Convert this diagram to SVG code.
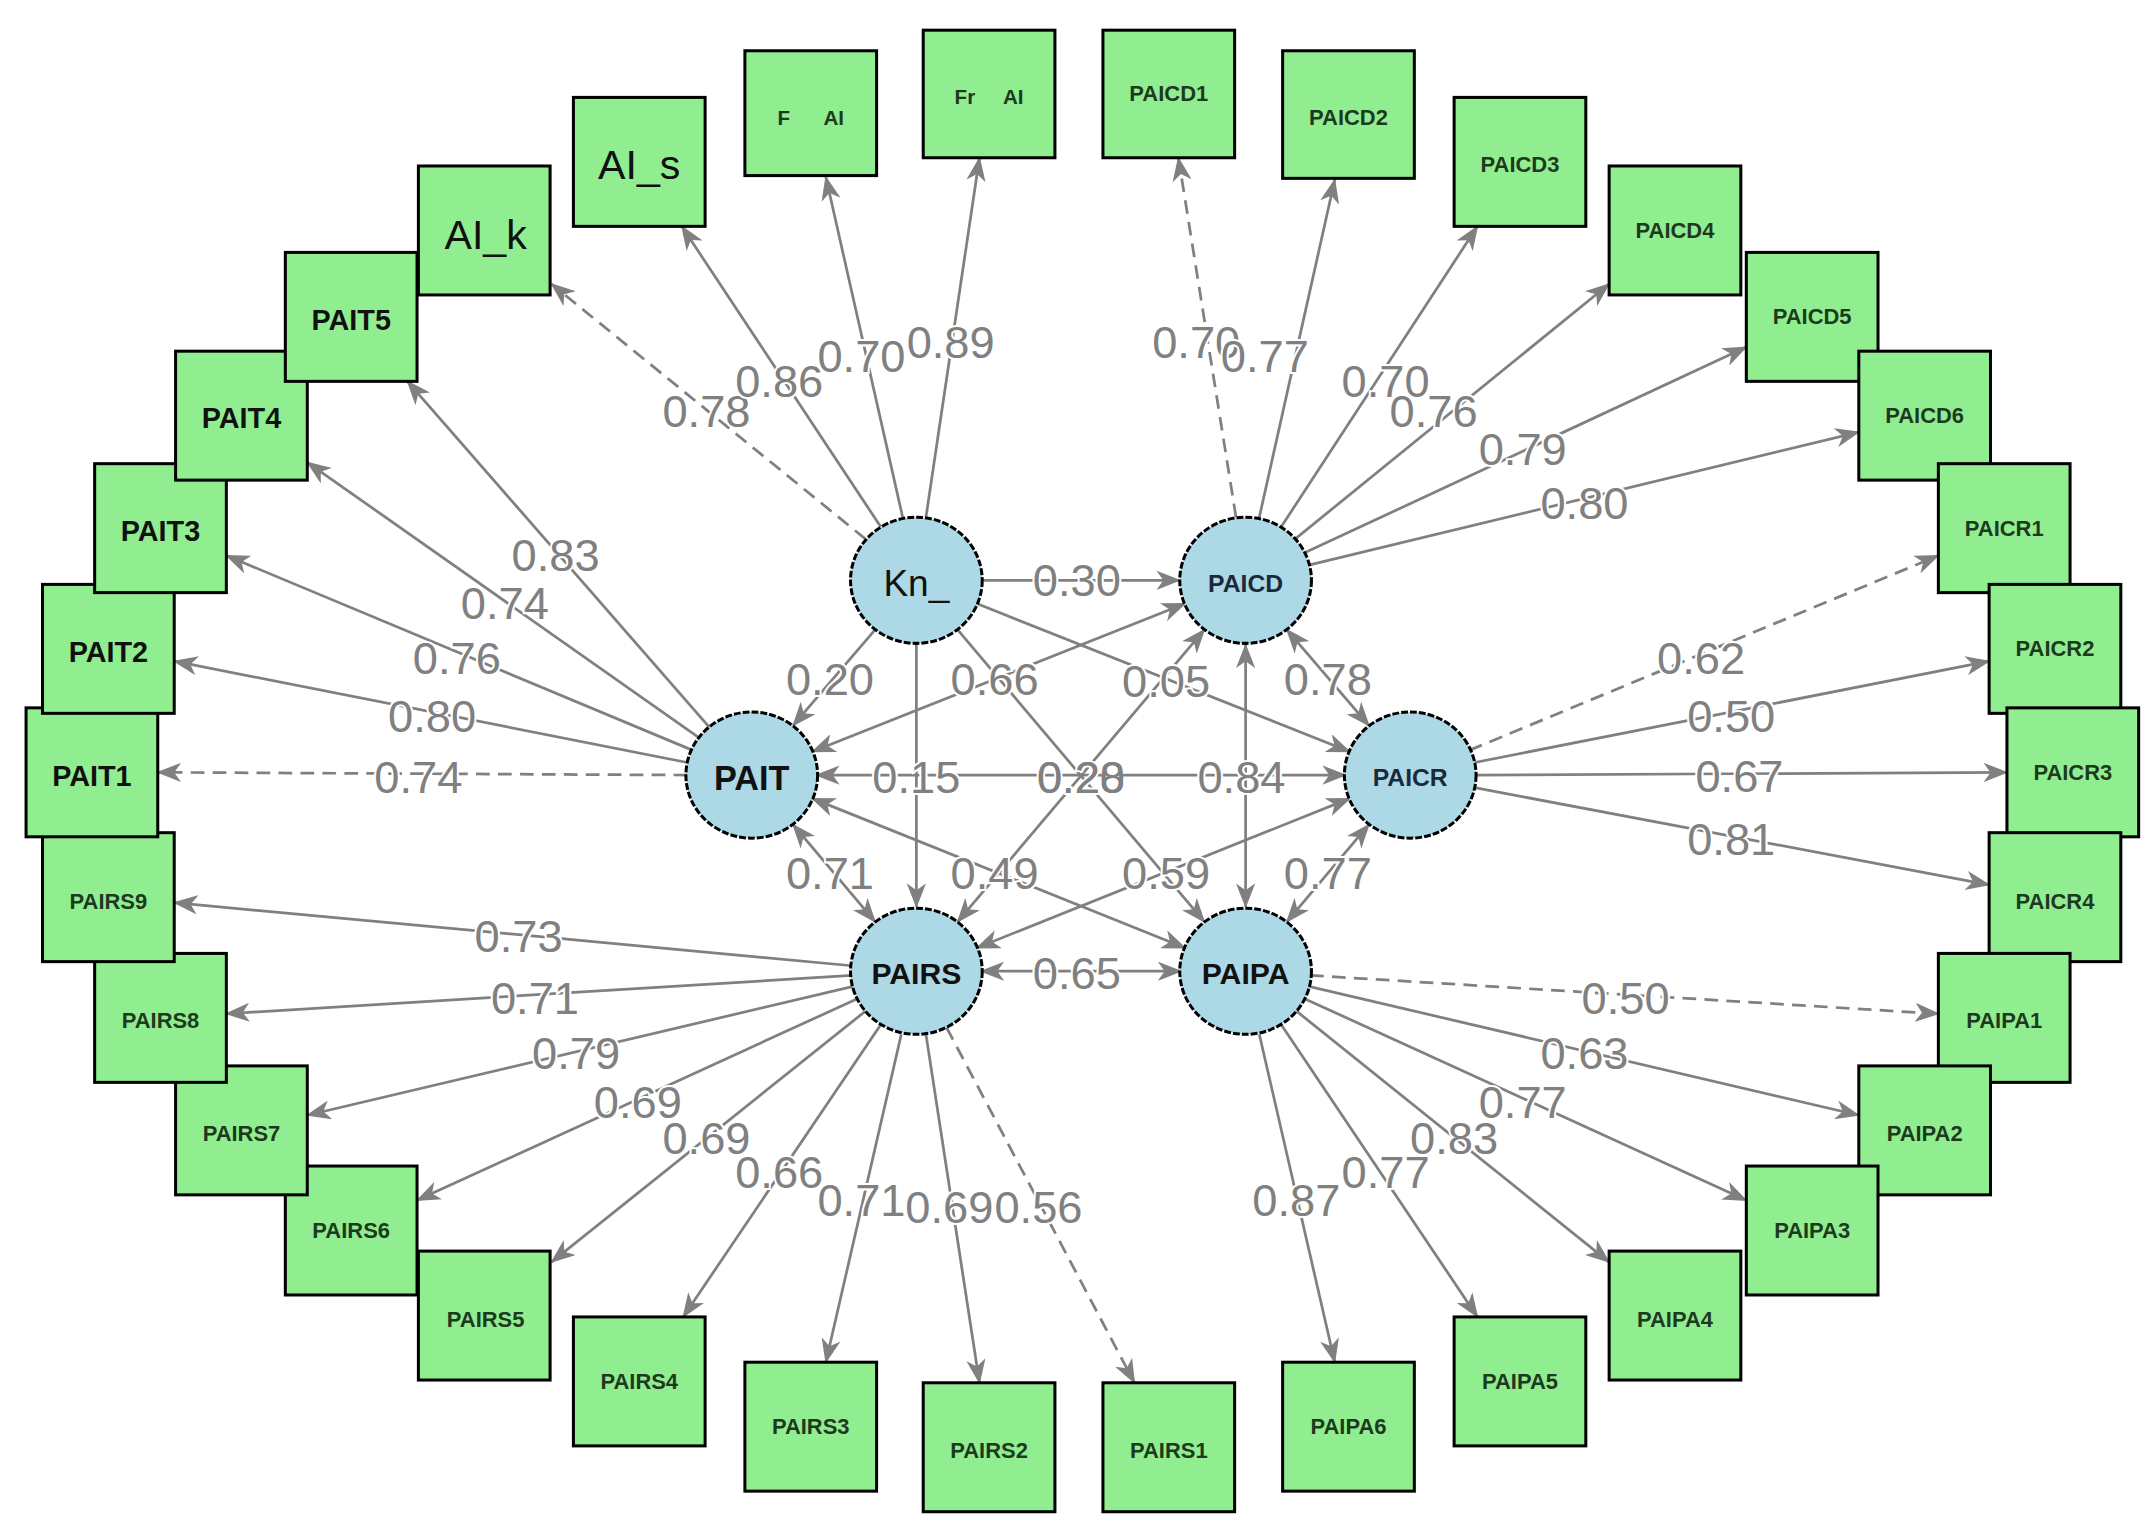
<svg xmlns="http://www.w3.org/2000/svg" width="2151" height="1524" viewBox="0 0 2151 1524">
<style>
.b{fill:#90EE90;stroke:#000;stroke-width:2.2}
.c{fill:#ADD8E6;stroke:#000;stroke-width:2.2;stroke-dasharray:5 1.5}
.t{font-family:"Liberation Sans",Arial,sans-serif;fill:#1e3a1e;text-anchor:middle;dominant-baseline:central;font-weight:bold}
.e{stroke:#808080;stroke-width:2;fill:none;marker-end:url(#ah)}
.d{stroke-dasharray:10 6}
.w{marker-start:url(#ah)}
.l{font-family:"Liberation Sans",Arial,sans-serif;font-size:33px;fill:#808080;text-anchor:middle;dominant-baseline:central;stroke:#fff;stroke-width:3;paint-order:stroke}
</style>
<defs>
<marker id="ah" markerUnits="userSpaceOnUse" markerWidth="18" markerHeight="14" refX="17" refY="7" orient="auto-start-reverse"><path d="M0,0 L18,7 L0,14 L5,7 Z" fill="#808080"/></marker>
</defs>
<rect width="2151" height="1524" fill="#fff"/>
<g transform="scale(1.37181)">
<g id="connectors">
<line class="e d" x1="631" y1="393" x2="402" y2="207"/>
<line class="e" x1="642" y1="384" x2="497" y2="165"/>
<line class="e" x1="658" y1="377" x2="602" y2="129"/>
<line class="e" x1="675" y1="377" x2="714" y2="115"/>
<line class="e d" x1="901" y1="377" x2="859" y2="115"/>
<line class="e" x1="918" y1="377" x2="973" y2="131"/>
<line class="e" x1="934" y1="384" x2="1077" y2="165"/>
<line class="e" x1="944" y1="393" x2="1173" y2="207"/>
<line class="e" x1="951" y1="403" x2="1273" y2="253"/>
<line class="e" x1="954" y1="412" x2="1355" y2="315"/>
<line class="e d" x1="1071" y1="547" x2="1413" y2="405"/>
<line class="e" x1="1074" y1="556" x2="1450" y2="482"/>
<line class="e" x1="1075" y1="565" x2="1463" y2="563"/>
<line class="e" x1="1074" y1="574" x2="1450" y2="645"/>
<line class="e d" x1="955" y1="711" x2="1413" y2="739"/>
<line class="e" x1="954" y1="719" x2="1355" y2="813"/>
<line class="e" x1="951" y1="728" x2="1273" y2="875"/>
<line class="e" x1="945" y1="737" x2="1173" y2="920"/>
<line class="e" x1="934" y1="747" x2="1077" y2="960"/>
<line class="e" x1="918" y1="754" x2="973" y2="993"/>
<line class="e d" x1="690" y1="749" x2="827" y2="1008"/>
<line class="e" x1="675" y1="754" x2="714" y2="1008"/>
<line class="e" x1="657" y1="754" x2="602" y2="993"/>
<line class="e" x1="642" y1="747" x2="498" y2="960"/>
<line class="e" x1="631" y1="737" x2="402" y2="920"/>
<line class="e" x1="625" y1="728" x2="304" y2="875"/>
<line class="e" x1="622" y1="719" x2="224" y2="813"/>
<line class="e" x1="621" y1="711" x2="165" y2="739"/>
<line class="e" x1="621" y1="704" x2="127" y2="658"/>
<line class="e d" x1="501" y1="565" x2="115" y2="563"/>
<line class="e" x1="502" y1="556" x2="127" y2="482"/>
<line class="e" x1="505" y1="547" x2="165" y2="405"/>
<line class="e" x1="510" y1="538" x2="224" y2="337"/>
<line class="e" x1="517" y1="530" x2="297" y2="278"/>
<line class="e" x1="716" y1="423" x2="860" y2="423"/>
<line class="e" x1="638" y1="459" x2="578" y2="529"/>
<line class="e" x1="668" y1="470" x2="668" y2="661"/>
<line class="e" x1="712" y1="440" x2="984" y2="548"/>
<line class="e" x1="698" y1="459" x2="878" y2="672"/>
<line class="e w" x1="592" y1="548" x2="864" y2="440"/>
<line class="e w" x1="595" y1="565" x2="981" y2="565"/>
<line class="e w" x1="578" y1="601" x2="638" y2="672"/>
<line class="e w" x1="592" y1="582" x2="864" y2="691"/>
<line class="e w" x1="938" y1="459" x2="998" y2="529"/>
<line class="e w" x1="878" y1="459" x2="698" y2="672"/>
<line class="e w" x1="908" y1="470" x2="908" y2="661"/>
<line class="e w" x1="984" y1="582" x2="712" y2="691"/>
<line class="e w" x1="998" y1="601" x2="938" y2="672"/>
<line class="e w" x1="715" y1="708" x2="861" y2="708"/>
<g>
<text class="l" x="515" y="300">0.78</text><text class="l" x="568" y="278">0.86</text><text class="l" x="628" y="260">0.70</text><text class="l" x="693" y="250">0.89</text>
<text class="l" x="872" y="250">0.70</text><text class="l" x="922" y="260">0.77</text><text class="l" x="1010" y="278">0.70</text><text class="l" x="1045" y="300">0.76</text><text class="l" x="1110" y="328">0.79</text><text class="l" x="1155" y="367">0.80</text>
<text class="l" x="1240" y="480">0.62</text><text class="l" x="1262" y="522">0.50</text><text class="l" x="1268" y="566">0.67</text><text class="l" x="1262" y="612">0.81</text>
<text class="l" x="1185" y="728">0.50</text><text class="l" x="1155" y="768">0.63</text><text class="l" x="1110" y="804">0.77</text><text class="l" x="1060" y="830">0.83</text><text class="l" x="1010" y="855">0.77</text><text class="l" x="945" y="875">0.87</text>
<text class="l" x="757" y="880">0.56</text><text class="l" x="692" y="880">0.69</text><text class="l" x="628" y="875">0.71</text><text class="l" x="568" y="855">0.66</text><text class="l" x="515" y="830">0.69</text><text class="l" x="465" y="804">0.69</text><text class="l" x="420" y="768">0.79</text><text class="l" x="390" y="728">0.71</text><text class="l" x="378" y="683">0.73</text>
<text class="l" x="305" y="567">0.74</text><text class="l" x="315" y="522">0.80</text><text class="l" x="333" y="480">0.76</text><text class="l" x="368" y="440">0.74</text><text class="l" x="405" y="405">0.83</text>
<text class="l" x="785" y="423">0.30</text><text class="l" x="605" y="495">0.20</text><text class="l" x="725" y="495">0.66</text><text class="l" x="850" y="497">0.05</text><text class="l" x="968" y="495">0.78</text>
<text class="l" x="668" y="567">0.15</text><text class="l" x="788" y="567">0.28</text><text class="l" x="788" y="567" style="stroke:none">0.20</text><text class="l" x="905" y="567">0.84</text>
<text class="l" x="605" y="637">0.71</text><text class="l" x="725" y="637">0.49</text><text class="l" x="850" y="637">0.59</text><text class="l" x="968" y="637">0.77</text><text class="l" x="785" y="710">0.65</text>
</g>
</g>
<g id="AI_s"><rect class="b" x="418" y="71" width="96" height="94"/><text class="t" x="466" y="120" style="font-size:30px;font-weight:normal;fill:#111">AI_s</text></g>
<g id="F_AI"><rect class="b" x="543" y="37" width="96" height="91"/><text class="t" x="591" y="86" style="font-size:15px" xml:space="preserve">F      AI</text></g>
<g id="Fr_AI"><rect class="b" x="673" y="22" width="96" height="93"/><text class="t" x="721" y="70" style="font-size:15px" xml:space="preserve">Fr     AI</text></g>
<g id="PAICD1"><rect class="b" x="804" y="22" width="96" height="93"/><text class="t" x="852" y="68" style="font-size:16px">PAICD1</text></g>
<g id="PAICD2"><rect class="b" x="935" y="37" width="96" height="93"/><text class="t" x="983" y="86" style="font-size:16px">PAICD2</text></g>
<g id="PAICD3"><rect class="b" x="1060" y="71" width="96" height="94"/><text class="t" x="1108" y="120" style="font-size:16px">PAICD3</text></g>
<g id="PAICD4"><rect class="b" x="1173" y="121" width="96" height="94"/><text class="t" x="1221" y="168" style="font-size:16px">PAICD4</text></g>
<g id="PAICD5"><rect class="b" x="1273" y="184" width="96" height="94"/><text class="t" x="1321" y="231" style="font-size:16px">PAICD5</text></g>
<g id="PAICD6"><rect class="b" x="1355" y="256" width="96" height="94"/><text class="t" x="1403" y="303" style="font-size:16px">PAICD6</text></g>
<g id="PAICR1"><rect class="b" x="1413" y="338" width="96" height="94"/><text class="t" x="1461" y="385" style="font-size:16px">PAICR1</text></g>
<g id="PAICR2"><rect class="b" x="1450" y="426" width="96" height="94"/><text class="t" x="1498" y="473" style="font-size:16px">PAICR2</text></g>
<g id="PAICR3"><rect class="b" x="1463" y="516" width="96" height="94"/><text class="t" x="1511" y="563" style="font-size:16px">PAICR3</text></g>
<g id="PAICR4"><rect class="b" x="1450" y="607" width="96" height="94"/><text class="t" x="1498" y="657" style="font-size:16px">PAICR4</text></g>
<g id="PAIPA1"><rect class="b" x="1413" y="695" width="96" height="94"/><text class="t" x="1461" y="744" style="font-size:16px">PAIPA1</text></g>
<g id="PAIPA2"><rect class="b" x="1355" y="777" width="96" height="94"/><text class="t" x="1403" y="826" style="font-size:16px">PAIPA2</text></g>
<g id="PAIPA3"><rect class="b" x="1273" y="850" width="96" height="94"/><text class="t" x="1321" y="897" style="font-size:16px">PAIPA3</text></g>
<g id="PAIPA4"><rect class="b" x="1173" y="912" width="96" height="94"/><text class="t" x="1221" y="962" style="font-size:16px">PAIPA4</text></g>
<g id="PAIPA5"><rect class="b" x="1060" y="960" width="96" height="94"/><text class="t" x="1108" y="1007" style="font-size:16px">PAIPA5</text></g>
<g id="PAIPA6"><rect class="b" x="935" y="993" width="96" height="94"/><text class="t" x="983" y="1040" style="font-size:16px">PAIPA6</text></g>
<g id="PAIRS1"><rect class="b" x="804" y="1008" width="96" height="94"/><text class="t" x="852" y="1057" style="font-size:16px">PAIRS1</text></g>
<g id="PAIRS2"><rect class="b" x="673" y="1008" width="96" height="94"/><text class="t" x="721" y="1057" style="font-size:16px">PAIRS2</text></g>
<g id="PAIRS3"><rect class="b" x="543" y="993" width="96" height="94"/><text class="t" x="591" y="1040" style="font-size:16px">PAIRS3</text></g>
<g id="PAIRS4"><rect class="b" x="418" y="960" width="96" height="94"/><text class="t" x="466" y="1007" style="font-size:16px">PAIRS4</text></g>
<g id="PAIRS5"><rect class="b" x="305" y="912" width="96" height="94"/><text class="t" x="354" y="962" style="font-size:16px">PAIRS5</text></g>
<g id="PAIRS6"><rect class="b" x="208" y="850" width="96" height="94"/><text class="t" x="256" y="897" style="font-size:16px">PAIRS6</text></g>
<g id="PAIRS7"><rect class="b" x="128" y="777" width="96" height="94"/><text class="t" x="176" y="826" style="font-size:16px">PAIRS7</text></g>
<g id="PAIRS8"><rect class="b" x="69" y="695" width="96" height="94"/><text class="t" x="117" y="744" style="font-size:16px">PAIRS8</text></g>
<g id="PAIRS9"><rect class="b" x="31" y="607" width="96" height="94"/><text class="t" x="79" y="657" style="font-size:16px">PAIRS9</text></g>
<g id="PAIT1"><rect class="b" x="19" y="516" width="96" height="94"/><text class="t" x="67" y="566" style="font-size:21px;fill:#111">PAIT1</text></g>
<g id="PAIT2"><rect class="b" x="31" y="426" width="96" height="94"/><text class="t" x="79" y="475" style="font-size:21px;fill:#111">PAIT2</text></g>
<g id="PAIT3"><rect class="b" x="69" y="338" width="96" height="94"/><text class="t" x="117" y="387" style="font-size:21px;fill:#111">PAIT3</text></g>
<g id="PAIT4"><rect class="b" x="128" y="256" width="96" height="94"/><text class="t" x="176" y="305" style="font-size:21px;fill:#111">PAIT4</text></g>
<g id="PAIT5"><rect class="b" x="208" y="184" width="96" height="94"/><text class="t" x="256" y="233" style="font-size:21px;fill:#111">PAIT5</text></g>
<g id="AI_k"><rect class="b" x="305" y="121" width="96" height="94"/><text class="t" x="354" y="171" style="font-size:30px;font-weight:normal;fill:#111">AI_k</text></g>
<g id="Kn_"><ellipse class="c" cx="668" cy="423" rx="48" ry="46"/><text class="t" x="668" y="425" style="font-size:27px;font-weight:normal;fill:#111">Kn_</text></g>
<g id="PAICD"><ellipse class="c" cx="908" cy="423" rx="48" ry="46"/><text class="t" x="908" y="425" style="font-size:18px;fill:#1a2a3a">PAICD</text></g>
<g id="PAIT"><ellipse class="c" cx="548" cy="565" rx="48" ry="46"/><text class="t" x="548" y="567" style="font-size:25px;fill:#111">PAIT</text></g>
<g id="PAICR"><ellipse class="c" cx="1028" cy="565" rx="48" ry="46"/><text class="t" x="1028" y="567" style="font-size:18px;fill:#1a2a3a">PAICR</text></g>
<g id="PAIRS"><ellipse class="c" cx="668" cy="708" rx="48" ry="46"/><text class="t" x="668" y="710" style="font-size:22px;fill:#111">PAIRS</text></g>
<g id="PAIPA"><ellipse class="c" cx="908" cy="708" rx="48" ry="46"/><text class="t" x="908" y="710" style="font-size:22px;fill:#111">PAIPA</text></g>
</g>
</svg>
